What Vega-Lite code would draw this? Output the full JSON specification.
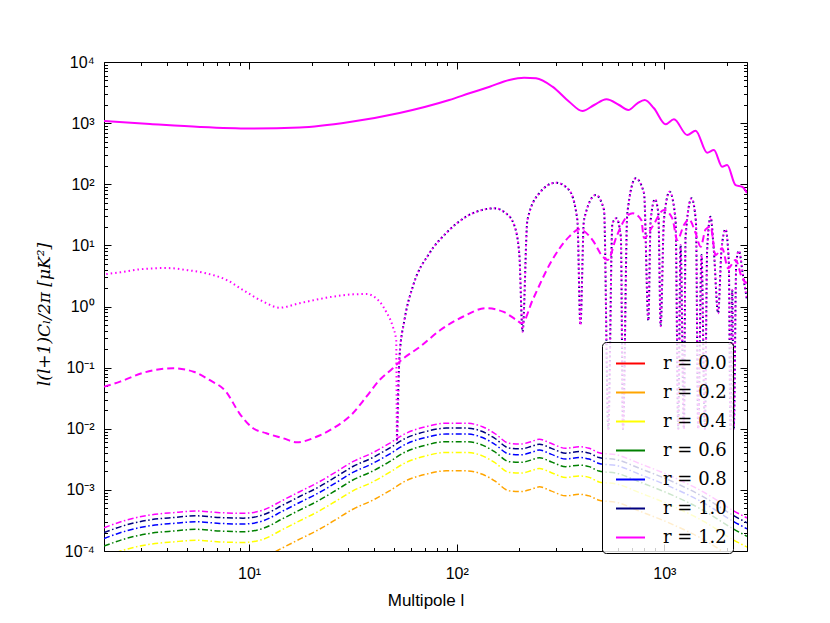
{
  "$schema": "https://vega.github.io/schema/vega-lite/v6.json",
  "width": 643,
  "height": 489,
  "autosize": "none",
  "padding": {"left": 104, "top": 62, "right": 83, "bottom": 72},
  "background": "white",
  "config": {
    "view": {"stroke": "black", "strokeWidth": 1},
    "axis": {"grid": false, "domain": false, "tickColor": "black", "tickWidth": 1, "labelColor": "black", "titleColor": "black"}
  },
  "data": {"values": [
    {"c":"TT","l":2,"v":1084},{"c":"TT","l":3.33,"v":968},{"c":"TT","l":5.8,"v":865},{"c":"TT","l":10.1,"v":817},
    {"c":"TT","l":17.5,"v":847},{"c":"TT","l":30.5,"v":1042},{"c":"TT","l":53,"v":1465},{"c":"TT","l":92,"v":2390},
    {"c":"TT","l":115,"v":3075},{"c":"TT","l":144,"v":3945},{"c":"TT","l":179,"v":5080},{"c":"TT","l":211,"v":5540},
    {"c":"TT","l":241,"v":5410},{"c":"TT","l":289,"v":3945},{"c":"TT","l":348,"v":2240},{"c":"TT","l":403,"v":1577},
    {"c":"TT","l":459,"v":1980},{"c":"TT","l":526,"v":2455},{"c":"TT","l":605,"v":1980},{"c":"TT","l":670,"v":1640},
    {"c":"TT","l":741,"v":2110},{"c":"TT","l":804,"v":2390},{"c":"TT","l":891,"v":1750},{"c":"TT","l":1014,"v":957},
    {"c":"TT","l":1112,"v":1156},{"c":"TT","l":1288,"v":640},{"c":"TT","l":1414,"v":752},{"c":"TT","l":1607,"v":328},
    {"c":"TT","l":1732,"v":363},{"c":"TT","l":1898,"v":194},{"c":"TT","l":2006,"v":206},{"c":"TT","l":2202,"v":97},
    {"c":"TT","l":2370,"v":91},{"c":"TT","l":2500,"v":72},

    {"c":"EE","l":2,"v":0.0488},{"c":"EE","l":2.39,"v":0.0589},{"c":"EE","l":3.1,"v":0.0826},{"c":"EE","l":4.3,"v":0.0975},
    {"c":"EE","l":5.4,"v":0.0858},{"c":"EE","l":6.44,"v":0.0628},{"c":"EE","l":7.74,"v":0.0404},{"c":"EE","l":8.98,"v":0.0179},
    {"c":"EE","l":10.45,"v":0.0102},{"c":"EE","l":12.1,"v":0.00843},{"c":"EE","l":14.6,"v":0.00698},{"c":"EE","l":17,"v":0.006},
    {"c":"EE","l":21.1,"v":0.0074},{"c":"EE","l":25.4,"v":0.0102},{"c":"EE","l":31.6,"v":0.0179},{"c":"EE","l":36.7,"v":0.0334},
    {"c":"EE","l":42.5,"v":0.0628},{"c":"EE","l":49.2,"v":0.0975},{"c":"EE","l":53,"v":0.125},{"c":"EE","l":66.6,"v":0.22},
    {"c":"EE","l":83.4,"v":0.412},{"c":"EE","l":107,"v":0.68},{"c":"EE","l":138,"v":0.935},{"c":"EE","l":167,"v":0.823},
    {"c":"EE","l":194,"v":0.601},{"c":"EE","l":206,"v":0.531},{"c":"EE","l":232,"v":1.28},{"c":"EE","l":288,"v":5.77},
    {"c":"EE","l":348,"v":13.9},{"c":"EE","l":389,"v":18.3},{"c":"EE","l":451,"v":12.2},{"c":"EE","l":505,"v":6.53},
    {"c":"EE","l":534,"v":5.77},{"c":"EE","l":588,"v":13.9},{"c":"EE","l":670,"v":31.4},{"c":"EE","l":705,"v":33.5},
    {"c":"EE","l":774,"v":26},{"c":"EE","l":798,"v":13.1},{"c":"EE","l":875,"v":20.2},{"c":"EE","l":995,"v":37.9},
    {"c":"EE","l":1092,"v":27.7},{"c":"EE","l":1154,"v":12.2},{"c":"EE","l":1242,"v":21.5},{"c":"EE","l":1313,"v":26.7},
    {"c":"EE","l":1414,"v":15.8},{"c":"EE","l":1496,"v":9.5},{"c":"EE","l":1580,"v":18.3},{"c":"EE","l":1669,"v":20.2},
    {"c":"EE","l":1765,"v":6.96},{"c":"EE","l":1898,"v":8.95},{"c":"EE","l":2028,"v":4.22},{"c":"EE","l":2202,"v":5.77},
    {"c":"EE","l":2370,"v":2.89},{"c":"EE","l":2500,"v":2.4},

    {"c":"TE","l":2,"v":3.36},{"c":"TE","l":2.39,"v":3.62},{"c":"TE","l":2.98,"v":4.06},{"c":"TE","l":4,"v":4.26},
    {"c":"TE","l":5,"v":3.95},{"c":"TE","l":6.2,"v":3.49},{"c":"TE","l":7.8,"v":2.71},{"c":"TE","l":9.35,"v":1.86},
    {"c":"TE","l":11.7,"v":1.2},{"c":"TE","l":14,"v":0.955},{"c":"TE","l":17.5,"v":1.13},{"c":"TE","l":23.5,"v":1.39},
    {"c":"TE","l":31.6,"v":1.58},{"c":"TE","l":36.7,"v":1.6},{"c":"TE","l":42.5,"v":1.2},{"c":"TE","l":45.7,"v":0.82},
    {"c":"TE","l":49.2,"v":0.47},{"c":"TE","l":51.1,"v":0.28},{"c":"TE","l":51.5,"v":0.00655},{"c":"TE","l":53,"v":0.151},
    {"c":"TE","l":56,"v":0.601},{"c":"TE","l":61.4,"v":2.11},{"c":"TE","l":73.8,"v":7.41},{"c":"TE","l":88.8,"v":15.8},
    {"c":"TE","l":111,"v":29.5},{"c":"TE","l":128.5,"v":36.9},{"c":"TE","l":151.7,"v":40.4},{"c":"TE","l":172.6,"v":33.5},
    {"c":"TE","l":189,"v":21.5},{"c":"TE","l":200,"v":7.41},{"c":"TE","l":207.5,"v":0.387},{"c":"TE","l":219,"v":26},
    {"c":"TE","l":249.5,"v":71.1},{"c":"TE","l":300,"v":106},{"c":"TE","l":347.5,"v":80.5},{"c":"TE","l":381,"v":26},
    {"c":"TE","l":394,"v":0.498},{"c":"TE","l":410,"v":26},{"c":"TE","l":467,"v":66.7},{"c":"TE","l":512,"v":37.9},
    {"c":"TE","l":537,"v":0.0099},{"c":"TE","l":562,"v":23},{"c":"TE","l":587,"v":27.7},{"c":"TE","l":617,"v":13.9},
    {"c":"TE","l":632,"v":0.0099},{"c":"TE","l":663,"v":33.5},{"c":"TE","l":728,"v":125},{"c":"TE","l":798,"v":71.1},
    {"c":"TE","l":837,"v":0.586},{"c":"TE","l":859,"v":26},{"c":"TE","l":901,"v":56.7},{"c":"TE","l":935,"v":33.5},
    {"c":"TE","l":960,"v":0.48},{"c":"TE","l":995,"v":26},{"c":"TE","l":1060,"v":75.5},{"c":"TE","l":1132,"v":26},
    {"c":"TE","l":1166,"v":0.0099},{"c":"TE","l":1197,"v":10.1},{"c":"TE","l":1242,"v":0.0099},{"c":"TE","l":1265,"v":13.9},
    {"c":"TE","l":1352,"v":58.9},{"c":"TE","l":1419,"v":24.1},{"c":"TE","l":1455,"v":0.0099},{"c":"TE","l":1510,"v":6.96},
    {"c":"TE","l":1567,"v":0.0099},{"c":"TE","l":1607,"v":8.4},{"c":"TE","l":1669,"v":29.5},{"c":"TE","l":1730,"v":8.4},
    {"c":"TE","l":1815,"v":0.774},{"c":"TE","l":1884,"v":8.4},{"c":"TE","l":1969,"v":18.3},{"c":"TE","l":2043,"v":5.35},
    {"c":"TE","l":2081,"v":0.0099},{"c":"TE","l":2122,"v":1.86},{"c":"TE","l":2158,"v":0.0099},{"c":"TE","l":2221,"v":5.35},
    {"c":"TE","l":2285,"v":8.18},{"c":"TE","l":2390,"v":3.27},{"c":"TE","l":2500,"v":1.28},

    {"c":"BB","r":"1.2","l":2,"v":0.00024},{"c":"BB","r":"1.2","l":2.57,"v":0.000321},{"c":"BB","r":"1.2","l":3.33,"v":0.000388},
    {"c":"BB","r":"1.2","l":4.31,"v":0.000424},{"c":"BB","r":"1.2","l":5.58,"v":0.000451},{"c":"BB","r":"1.2","l":7.22,"v":0.000424},
    {"c":"BB","r":"1.2","l":9.35,"v":0.000414},{"c":"BB","r":"1.2","l":11.7,"v":0.000469},{"c":"BB","r":"1.2","l":14.6,"v":0.000683},
    {"c":"BB","r":"1.2","l":17.5,"v":0.000933},{"c":"BB","r":"1.2","l":21.8,"v":0.00136},{"c":"BB","r":"1.2","l":26.3,"v":0.00198},
    {"c":"BB","r":"1.2","l":31.6,"v":0.00289},{"c":"BB","r":"1.2","l":39.4,"v":0.00406},{"c":"BB","r":"1.2","l":47.4,"v":0.00578},
    {"c":"BB","r":"1.2","l":57,"v":0.00843},{"c":"BB","r":"1.2","l":71,"v":0.0108},{"c":"BB","r":"1.2","l":89,"v":0.0123},
    {"c":"BB","r":"1.2","l":111,"v":0.0123},{"c":"BB","r":"1.2","l":133,"v":0.0108},{"c":"BB","r":"1.2","l":152,"v":0.00843},
    {"c":"BB","r":"1.2","l":179,"v":0.00578},{"c":"BB","r":"1.2","l":204,"v":0.00563},{"c":"BB","r":"1.2","l":228,"v":0.00614},
    {"c":"BB","r":"1.2","l":250,"v":0.00672},{"c":"BB","r":"1.2","l":284,"v":0.00578},{"c":"BB","r":"1.2","l":335,"v":0.00479},
    {"c":"BB","r":"1.2","l":388,"v":0.00508},{"c":"BB","r":"1.2","l":434,"v":0.00479},{"c":"BB","r":"1.2","l":485,"v":0.00406},
    {"c":"BB","r":"1.2","l":594,"v":0.00372},{"c":"BB","r":"1.2","l":755,"v":0.00272},{"c":"BB","r":"1.2","l":1092,"v":0.00164},
    {"c":"BB","r":"1.2","l":1580,"v":0.00088},{"c":"BB","r":"1.2","l":2122,"v":0.000469},{"c":"BB","r":"1.2","l":2500,"v":0.000347},

    {"c":"BB","r":"1.0","l":2,"v":0.0002},{"c":"BB","r":"1.0","l":2.57,"v":0.000268},{"c":"BB","r":"1.0","l":3.33,"v":0.000323},
    {"c":"BB","r":"1.0","l":4.31,"v":0.000353},{"c":"BB","r":"1.0","l":5.58,"v":0.000376},{"c":"BB","r":"1.0","l":7.22,"v":0.000353},
    {"c":"BB","r":"1.0","l":9.35,"v":0.000345},{"c":"BB","r":"1.0","l":11.7,"v":0.000391},{"c":"BB","r":"1.0","l":14.6,"v":0.000569},
    {"c":"BB","r":"1.0","l":17.5,"v":0.000778},{"c":"BB","r":"1.0","l":21.8,"v":0.00113},{"c":"BB","r":"1.0","l":26.3,"v":0.00165},
    {"c":"BB","r":"1.0","l":31.6,"v":0.00241},{"c":"BB","r":"1.0","l":39.4,"v":0.00338},{"c":"BB","r":"1.0","l":47.4,"v":0.00482},
    {"c":"BB","r":"1.0","l":57,"v":0.00703},{"c":"BB","r":"1.0","l":71,"v":0.009},{"c":"BB","r":"1.0","l":89,"v":0.01025},
    {"c":"BB","r":"1.0","l":111,"v":0.01025},{"c":"BB","r":"1.0","l":133,"v":0.009},{"c":"BB","r":"1.0","l":152,"v":0.00703},
    {"c":"BB","r":"1.0","l":179,"v":0.00482},{"c":"BB","r":"1.0","l":204,"v":0.00469},{"c":"BB","r":"1.0","l":228,"v":0.00512},
    {"c":"BB","r":"1.0","l":250,"v":0.0056},{"c":"BB","r":"1.0","l":284,"v":0.00482},{"c":"BB","r":"1.0","l":335,"v":0.00399},
    {"c":"BB","r":"1.0","l":388,"v":0.00423},{"c":"BB","r":"1.0","l":434,"v":0.00399},{"c":"BB","r":"1.0","l":485,"v":0.00338},
    {"c":"BB","r":"1.0","l":594,"v":0.0031},{"c":"BB","r":"1.0","l":755,"v":0.00227},{"c":"BB","r":"1.0","l":1092,"v":0.00137},
    {"c":"BB","r":"1.0","l":1580,"v":0.000733},{"c":"BB","r":"1.0","l":2122,"v":0.000391},{"c":"BB","r":"1.0","l":2500,"v":0.000289},

    {"c":"BB","r":"0.8","l":2,"v":0.00016},{"c":"BB","r":"0.8","l":2.57,"v":0.000214},{"c":"BB","r":"0.8","l":3.33,"v":0.000259},
    {"c":"BB","r":"0.8","l":4.31,"v":0.000283},{"c":"BB","r":"0.8","l":5.58,"v":0.000301},{"c":"BB","r":"0.8","l":7.22,"v":0.000283},
    {"c":"BB","r":"0.8","l":9.35,"v":0.000276},{"c":"BB","r":"0.8","l":11.7,"v":0.000313},{"c":"BB","r":"0.8","l":14.6,"v":0.000455},
    {"c":"BB","r":"0.8","l":17.5,"v":0.000622},{"c":"BB","r":"0.8","l":21.8,"v":0.000907},{"c":"BB","r":"0.8","l":26.3,"v":0.00132},
    {"c":"BB","r":"0.8","l":31.6,"v":0.00193},{"c":"BB","r":"0.8","l":39.4,"v":0.00271},{"c":"BB","r":"0.8","l":47.4,"v":0.00385},
    {"c":"BB","r":"0.8","l":57,"v":0.00562},{"c":"BB","r":"0.8","l":71,"v":0.0072},{"c":"BB","r":"0.8","l":89,"v":0.0082},
    {"c":"BB","r":"0.8","l":111,"v":0.0082},{"c":"BB","r":"0.8","l":133,"v":0.0072},{"c":"BB","r":"0.8","l":152,"v":0.00562},
    {"c":"BB","r":"0.8","l":179,"v":0.00385},{"c":"BB","r":"0.8","l":204,"v":0.00375},{"c":"BB","r":"0.8","l":228,"v":0.00409},
    {"c":"BB","r":"0.8","l":250,"v":0.00448},{"c":"BB","r":"0.8","l":284,"v":0.00385},{"c":"BB","r":"0.8","l":335,"v":0.00319},
    {"c":"BB","r":"0.8","l":388,"v":0.00339},{"c":"BB","r":"0.8","l":434,"v":0.00319},{"c":"BB","r":"0.8","l":485,"v":0.00271},
    {"c":"BB","r":"0.8","l":594,"v":0.00248},{"c":"BB","r":"0.8","l":755,"v":0.00181},{"c":"BB","r":"0.8","l":1092,"v":0.00109},
    {"c":"BB","r":"0.8","l":1580,"v":0.000587},{"c":"BB","r":"0.8","l":2122,"v":0.000313},{"c":"BB","r":"0.8","l":2500,"v":0.000231},

    {"c":"BB","r":"0.6","l":2,"v":0.00012},{"c":"BB","r":"0.6","l":2.57,"v":0.000161},{"c":"BB","r":"0.6","l":3.33,"v":0.000194},
    {"c":"BB","r":"0.6","l":4.31,"v":0.000212},{"c":"BB","r":"0.6","l":5.58,"v":0.000226},{"c":"BB","r":"0.6","l":7.22,"v":0.000212},
    {"c":"BB","r":"0.6","l":9.35,"v":0.000207},{"c":"BB","r":"0.6","l":11.7,"v":0.000235},{"c":"BB","r":"0.6","l":14.6,"v":0.000342},
    {"c":"BB","r":"0.6","l":17.5,"v":0.000467},{"c":"BB","r":"0.6","l":21.8,"v":0.00068},{"c":"BB","r":"0.6","l":26.3,"v":0.00099},
    {"c":"BB","r":"0.6","l":31.6,"v":0.00145},{"c":"BB","r":"0.6","l":39.4,"v":0.00203},{"c":"BB","r":"0.6","l":47.4,"v":0.00289},
    {"c":"BB","r":"0.6","l":57,"v":0.00422},{"c":"BB","r":"0.6","l":71,"v":0.0054},{"c":"BB","r":"0.6","l":89,"v":0.00615},
    {"c":"BB","r":"0.6","l":111,"v":0.00615},{"c":"BB","r":"0.6","l":133,"v":0.0054},{"c":"BB","r":"0.6","l":152,"v":0.00422},
    {"c":"BB","r":"0.6","l":179,"v":0.00289},{"c":"BB","r":"0.6","l":204,"v":0.00282},{"c":"BB","r":"0.6","l":228,"v":0.00307},
    {"c":"BB","r":"0.6","l":250,"v":0.00336},{"c":"BB","r":"0.6","l":284,"v":0.00289},{"c":"BB","r":"0.6","l":335,"v":0.0024},
    {"c":"BB","r":"0.6","l":388,"v":0.00254},{"c":"BB","r":"0.6","l":434,"v":0.0024},{"c":"BB","r":"0.6","l":485,"v":0.00203},
    {"c":"BB","r":"0.6","l":594,"v":0.00186},{"c":"BB","r":"0.6","l":755,"v":0.00136},{"c":"BB","r":"0.6","l":1092,"v":0.00082},
    {"c":"BB","r":"0.6","l":1580,"v":0.00044},{"c":"BB","r":"0.6","l":2122,"v":0.000235},{"c":"BB","r":"0.6","l":2500,"v":0.000174},

    {"c":"BB","r":"0.4","l":2,"v":0.00008},{"c":"BB","r":"0.4","l":2.57,"v":0.000107},{"c":"BB","r":"0.4","l":3.33,"v":0.000129},
    {"c":"BB","r":"0.4","l":4.31,"v":0.000141},{"c":"BB","r":"0.4","l":5.58,"v":0.00015},{"c":"BB","r":"0.4","l":7.22,"v":0.000141},
    {"c":"BB","r":"0.4","l":9.35,"v":0.000138},{"c":"BB","r":"0.4","l":11.7,"v":0.000156},{"c":"BB","r":"0.4","l":14.6,"v":0.000228},
    {"c":"BB","r":"0.4","l":17.5,"v":0.000311},{"c":"BB","r":"0.4","l":21.8,"v":0.000453},{"c":"BB","r":"0.4","l":26.3,"v":0.00066},
    {"c":"BB","r":"0.4","l":31.6,"v":0.000963},{"c":"BB","r":"0.4","l":39.4,"v":0.00135},{"c":"BB","r":"0.4","l":47.4,"v":0.00193},
    {"c":"BB","r":"0.4","l":57,"v":0.00281},{"c":"BB","r":"0.4","l":71,"v":0.0036},{"c":"BB","r":"0.4","l":89,"v":0.0041},
    {"c":"BB","r":"0.4","l":111,"v":0.0041},{"c":"BB","r":"0.4","l":133,"v":0.0036},{"c":"BB","r":"0.4","l":152,"v":0.00281},
    {"c":"BB","r":"0.4","l":179,"v":0.00193},{"c":"BB","r":"0.4","l":204,"v":0.00188},{"c":"BB","r":"0.4","l":228,"v":0.00205},
    {"c":"BB","r":"0.4","l":250,"v":0.00224},{"c":"BB","r":"0.4","l":284,"v":0.00193},{"c":"BB","r":"0.4","l":335,"v":0.0016},
    {"c":"BB","r":"0.4","l":388,"v":0.00169},{"c":"BB","r":"0.4","l":434,"v":0.0016},{"c":"BB","r":"0.4","l":485,"v":0.00135},
    {"c":"BB","r":"0.4","l":594,"v":0.00124},{"c":"BB","r":"0.4","l":755,"v":0.000907},{"c":"BB","r":"0.4","l":1092,"v":0.000547},
    {"c":"BB","r":"0.4","l":1580,"v":0.000293},{"c":"BB","r":"0.4","l":2122,"v":0.000156},{"c":"BB","r":"0.4","l":2500,"v":0.000116},

    {"c":"BB","r":"0.2","l":2,"v":0.00004},{"c":"BB","r":"0.2","l":2.57,"v":0.0000535},{"c":"BB","r":"0.2","l":3.33,"v":0.0000647},
    {"c":"BB","r":"0.2","l":4.31,"v":0.0000707},{"c":"BB","r":"0.2","l":5.58,"v":0.0000752},{"c":"BB","r":"0.2","l":7.22,"v":0.0000707},
    {"c":"BB","r":"0.2","l":9.35,"v":0.000069},{"c":"BB","r":"0.2","l":11.7,"v":0.0000782},{"c":"BB","r":"0.2","l":14.6,"v":0.000114},
    {"c":"BB","r":"0.2","l":17.5,"v":0.000156},{"c":"BB","r":"0.2","l":21.8,"v":0.000227},{"c":"BB","r":"0.2","l":26.3,"v":0.00033},
    {"c":"BB","r":"0.2","l":31.6,"v":0.000482},{"c":"BB","r":"0.2","l":39.4,"v":0.000677},{"c":"BB","r":"0.2","l":47.4,"v":0.000963},
    {"c":"BB","r":"0.2","l":57,"v":0.00141},{"c":"BB","r":"0.2","l":71,"v":0.0018},{"c":"BB","r":"0.2","l":89,"v":0.00205},
    {"c":"BB","r":"0.2","l":111,"v":0.00205},{"c":"BB","r":"0.2","l":133,"v":0.0018},{"c":"BB","r":"0.2","l":152,"v":0.00141},
    {"c":"BB","r":"0.2","l":179,"v":0.000963},{"c":"BB","r":"0.2","l":204,"v":0.000938},{"c":"BB","r":"0.2","l":228,"v":0.00102},
    {"c":"BB","r":"0.2","l":250,"v":0.00112},{"c":"BB","r":"0.2","l":284,"v":0.000963},{"c":"BB","r":"0.2","l":335,"v":0.000798},
    {"c":"BB","r":"0.2","l":388,"v":0.000847},{"c":"BB","r":"0.2","l":434,"v":0.000798},{"c":"BB","r":"0.2","l":485,"v":0.000677},
    {"c":"BB","r":"0.2","l":594,"v":0.00062},{"c":"BB","r":"0.2","l":755,"v":0.000453},{"c":"BB","r":"0.2","l":1092,"v":0.000273},
    {"c":"BB","r":"0.2","l":1580,"v":0.000147},{"c":"BB","r":"0.2","l":2122,"v":0.0000782},{"c":"BB","r":"0.2","l":2500,"v":0.0000578}
  ]},
  "layer": [
    {
      "transform": [{"filter": "datum.c === 'BB'"}],
      "mark": {"type": "line", "strokeWidth": 1.5, "strokeDash": [6, 2.5, 1.5, 2.5], "interpolate": "monotone", "clip": true},
      "encoding": {
        "x": {"field": "l", "type": "quantitative", "scale": {"type": "log", "domain": [2, 2500], "nice": false},
          "axis": {"orient": "top", "values": [10, 100, 1000], "labels": false, "title": null, "tickSize": -7}},
        "y": {"field": "v", "type": "quantitative", "scale": {"type": "log", "domain": [0.0001, 10000], "nice": false},
          "axis": {"orient": "right", "values": [0.0001, 0.001, 0.01, 0.1, 1, 10, 100, 1000, 10000], "labels": false, "title": null, "tickSize": -7}},
        "color": {"field": "r", "type": "nominal",
          "scale": {"domain": ["0.0", "0.2", "0.4", "0.6", "0.8", "1.0", "1.2"],
                    "range": ["#ff0000", "#ffa500", "#ffff00", "#008000", "#0000ff", "#000080", "#ff00ff"]},
          "legend": {"orient": "none", "legendX": 498, "legendY": 280, "title": null,
            "symbolType": "stroke", "symbolSize": 841, "symbolStrokeWidth": 2,
            "labelFont": "DejaVu Serif", "labelFontSize": 18, "labelColor": "black",
            "labelExpr": "'r = ' + datum.label", "labelLimit": 200,
            "strokeColor": "black", "fillColor": "rgba(255,255,255,0.8)", "cornerRadius": 4,
            "padding": 6, "rowPadding": 4, "symbolOffset": 7, "labelOffset": 17}}
      }
    },
    {
      "transform": [{"filter": "datum.c === 'TE' && datum.l >= 51.5"}],
      "mark": {"type": "line", "stroke": "#000080", "strokeWidth": 2, "strokeDash": [1.5, 3], "interpolate": "monotone", "clip": true},
      "encoding": {
        "x": {"field": "l", "type": "quantitative", "scale": {"type": "log", "domain": [2, 2500], "nice": false},
          "axis": {"orient": "bottom", "values": [2,3,4,5,6,7,8,9,20,30,40,50,60,70,80,90,200,300,400,500,600,700,800,900,2000],
            "labels": false, "title": null, "tickSize": -3.5}},
        "y": {"field": "v", "type": "quantitative", "scale": {"type": "log", "domain": [0.0001, 10000], "nice": false},
          "axis": {"orient": "left", "values": [0.0002,0.0003,0.0004,0.0005,0.0006,0.0007,0.0008,0.0009,0.002,0.003,0.004,0.005,0.006,0.007,0.008,0.009,0.02,0.03,0.04,0.05,0.06,0.07,0.08,0.09,0.2,0.3,0.4,0.5,0.6,0.7,0.8,0.9,2,3,4,5,6,7,8,9,20,30,40,50,60,70,80,90,200,300,400,500,600,700,800,900,2000,3000,4000,5000,6000,7000,8000,9000],
            "labels": false, "title": null, "tickSize": -3.5}}
      }
    },
    {
      "transform": [{"filter": "datum.c === 'TE'"}],
      "mark": {"type": "line", "stroke": "#ff00ff", "strokeWidth": 2, "strokeDash": [1.5, 3], "strokeDashOffset": 2.25, "interpolate": "monotone", "clip": true},
      "encoding": {
        "x": {"field": "l", "type": "quantitative", "scale": {"type": "log", "domain": [2, 2500], "nice": false},
          "axis": {"orient": "top", "values": [2,3,4,5,6,7,8,9,20,30,40,50,60,70,80,90,200,300,400,500,600,700,800,900,2000],
            "labels": false, "title": null, "tickSize": -3.5}},
        "y": {"field": "v", "type": "quantitative", "scale": {"type": "log", "domain": [0.0001, 10000], "nice": false},
          "axis": {"orient": "right", "values": [0.0002,0.0003,0.0004,0.0005,0.0006,0.0007,0.0008,0.0009,0.002,0.003,0.004,0.005,0.006,0.007,0.008,0.009,0.02,0.03,0.04,0.05,0.06,0.07,0.08,0.09,0.2,0.3,0.4,0.5,0.6,0.7,0.8,0.9,2,3,4,5,6,7,8,9,20,30,40,50,60,70,80,90,200,300,400,500,600,700,800,900,2000,3000,4000,5000,6000,7000,8000,9000],
            "labels": false, "title": null, "tickSize": -3.5}}
      }
    },
    {
      "transform": [{"filter": "datum.c === 'EE'"}],
      "mark": {"type": "line", "stroke": "#ff00ff", "strokeWidth": 2, "strokeDash": [7, 4], "interpolate": "monotone", "clip": true},
      "encoding": {
        "x": {"field": "l", "type": "quantitative", "scale": {"type": "log", "domain": [2, 2500], "nice": false}, "axis": null},
        "y": {"field": "v", "type": "quantitative", "scale": {"type": "log", "domain": [0.0001, 10000], "nice": false}, "axis": null}
      }
    },
    {
      "transform": [{"filter": "datum.c === 'TT'"}],
      "mark": {"type": "line", "stroke": "#ff00ff", "strokeWidth": 2, "interpolate": "monotone", "clip": true},
      "encoding": {
        "x": {"field": "l", "type": "quantitative", "scale": {"type": "log", "domain": [2, 2500], "nice": false},
          "axis": {"orient": "bottom", "values": [10, 100, 1000],
            "labelExpr": "'10' + replace(replace(replace(replace(replace(replace('' + round(log(datum.value)/LN10), '-', '⁻'), '0', '⁰'), '1', '¹'), '2', '²'), '3', '³'), '4', '⁴')",
            "tickSize": -7, "labelPadding": 21, "labelFont": "Liberation Sans", "labelFontSize": 16, "labelOverlap": false, "labelFlush": false,
            "title": "Multipole l", "titleFont": "Liberation Sans", "titleFontSize": 17, "titleFontWeight": "normal",
            "titleBaseline": "middle", "titleY": 49}},
        "y": {"field": "v", "type": "quantitative", "scale": {"type": "log", "domain": [0.0001, 10000], "nice": false},
          "axis": {"orient": "left", "values": [0.0001, 0.001, 0.01, 0.1, 1, 10, 100, 1000, 10000],
            "labelExpr": "'10' + replace(replace(replace(replace(replace(replace('' + round(log(datum.value)/LN10), '-', '⁻'), '0', '⁰'), '1', '¹'), '2', '²'), '3', '³'), '4', '⁴')",
            "tickSize": -7, "labelPadding": 17, "labelFont": "Liberation Sans", "labelFontSize": 16, "labelOverlap": false, "labelFlush": false,
            "title": "l(l+1)Cₗ/2π [μK²]", "titleFont": "DejaVu Serif", "titleFontStyle": "italic", "titleFontSize": 17, "titleFontWeight": "normal",
            "titleX": -51, "titleY": 252, "titleAngle": -90, "titleAlign": "center"}}
      }
    }
  ],
  "resolve": {"axis": {"x": "independent", "y": "independent"}}
}
